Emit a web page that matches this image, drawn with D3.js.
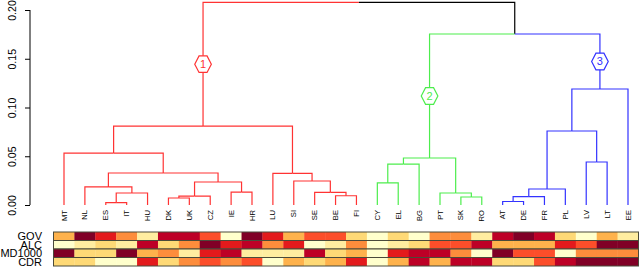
<!DOCTYPE html>
<html>
<head>
<meta charset="utf-8">
<script src="https://cdn.jsdelivr.net/npm/d3@7"></script>
<style>
  body { margin: 0; background: #fff; }
  text { font-family: "Liberation Sans", Arial, sans-serif; }
</style>
</head>
<body>
<div id="wrapper"></div>
<script>
// leaf order of the dendrogram
const countries = ['MT','NL','ES','IT','HU','DK','UK','CZ','IE','HR','LU','SI','SE','BE','FI',
                   'CY','EL','BG','PT','SK','RO','AT','DE','FR','PL','LV','LT','EE'];

// R-style merge matrix: negative = leaf (1-based), positive = earlier merge row
const mergeA = [-3,-22,-6,-20, 2, 3,-14, 1,-19,-13,-9, 5,-2,-16, 6,-12,13,-11,14,-26,19,-1,12,22,23,21,24];
const mergeB = [-4,-23,-7,-21,-24,-8,-15,-5, 4, 7,-10,-25, 8,-17,11,10,15,16,-18,-27, 9,17,20,18,-28,25,26];
const mergeH = [0.0024,0.0036,0.0072,0.0082,0.0085,0.0092,0.0095,0.0123,0.0123,0.013,0.0133,0.0164,
                0.0185,0.0226,0.0236,0.0246,0.0328,0.0325,0.042,0.0441,0.0482,0.0533,0.0759,0.081,
                0.119,0.1754,0.2079];

// merge rows that start each of the three clusters
const clusterRows = [24, 21, 25];
const clusterColors = ['#ff3333', '#4ded4d', '#3333ff'];

const yTicks = [0, 0.05, 0.10, 0.15, 0.20];

// colour classes (YlOrRd, 0..8) of the bars under the leaves
const barNames = ['GOV', 'ALC', 'MD1000', 'CDR'];
const GOV    = [3,8,6,4,1,7,7,5,0,8,6,3,5,5,2,0,2,0,4,4,1,7,8,7,2,0,3,1];
const ALC    = [0,1,2,1,7,2,4,8,6,7,4,6,0,1,4,0,1,2,5,5,7,3,3,3,6,5,8,8];
const MD1000 = [8,2,2,8,3,4,1,6,7,1,1,1,7,2,3,0,6,7,7,4,0,8,5,5,0,4,4,4];
const CDR    = [2,2,0,0,6,2,4,5,4,5,0,3,2,3,6,0,3,7,3,7,7,2,2,5,7,8,8,8];
const barRows = [GOV, ALC, MD1000, CDR];

const width = 640, height = 267;

const svg = d3.select('#wrapper').append('svg')
    .attr('width', width)
    .attr('height', height);

const xScale = d3.scalePoint().domain(countries).range([64, 628]);
const yScale = d3.scaleLinear().domain([0, 0.2]).range([205, 10]);

// build the tree from the merge matrix
const nodeFor = (ref) => ref < 0
    ? { name: countries[-ref - 1], h: 0 }
    : { row: ref, h: mergeH[ref - 1], kids: [nodeFor(mergeA[ref - 1]), nodeFor(mergeB[ref - 1])] };

const root = d3.hierarchy(nodeFor(mergeA.length), d => d.kids);

root.eachAfter(n => {
    n.px = n.children ? d3.mean(n.children, c => c.px) : xScale(n.data.name);
    n.py = yScale(n.data.h);
});
root.eachBefore(n => {
    const k = clusterRows.indexOf(n.data.row);
    n.cluster = k >= 0 ? k : (n.parent ? n.parent.cluster : -1);
});

const colorOf = n => n.cluster >= 0 ? clusterColors[n.cluster] : '#000';

svg.append('g')
    .selectAll('path')
    .data(root.descendants().filter(n => n.parent))
    .join('path')
    .attr('d', n => `M${n.parent.px},${n.parent.py}H${n.px}V${n.py}`)
    .attr('fill', 'none')
    .attr('stroke', colorOf)
    .attr('stroke-width', 1.2);

// hexagon cluster labels halfway along each cluster's top branch
const hexPts = [[-8.3,0],[-4,-8.3],[4,-8.3],[8.3,0],[4,8.3],[-4,8.3]];
const clusterNodes = clusterRows.map(r => root.descendants().find(n => n.data.row === r));

const hex = svg.append('g')
    .selectAll('g')
    .data(clusterNodes)
    .join('g')
    .attr('transform', n => `translate(${n.px},${(n.py + n.parent.py) / 2})`);

hex.append('polygon')
    .attr('points', hexPts.map(p => p.join(',')).join(' '))
    .attr('fill', '#fff')
    .attr('stroke', (n, i) => clusterColors[i])
    .attr('stroke-width', 1.2);

hex.append('text')
    .attr('text-anchor', 'middle')
    .attr('dy', '0.36em')
    .attr('font-size', 11)
    .attr('fill', (n, i) => clusterColors[i])
    .text((n, i) => i + 1);

// leaf labels
svg.append('g')
    .selectAll('text')
    .data(countries)
    .join('text')
    .attr('transform', d => `translate(${xScale(d) + 2.6},210) rotate(-90)`)
    .attr('text-anchor', 'end')
    .attr('font-size', 7.6)
    .text(d => d);

// y axis
const yAxis = svg.append('g')
    .attr('transform', 'translate(30,0)')
    .call(d3.axisLeft(yScale).tickValues(yTicks).tickSize(5).tickFormat(d3.format('.2f')));

yAxis.select('.domain').attr('d', `M0,${yScale(0)}V${yScale(0.2)}`);
yAxis.selectAll('text')
    .attr('font-size', 10.5)
    .attr('font-family', '"Liberation Sans", Arial, sans-serif')
    .attr('text-anchor', 'middle')
    .attr('transform', 'translate(-14,0) rotate(-90)')
    .attr('x', 0).attr('y', 0).attr('dy', 0);

// coloured bars
const palette = d3.schemeYlOrRd[9];
const xBand = d3.scaleBand().domain(countries).range([53.5, 638.5]);
const yBand = d3.scaleBand().domain(barNames).range([232, 266]);

const bars = svg.append('g')
    .selectAll('g')
    .data(barRows)
    .join('g')
    .attr('transform', (d, i) => `translate(0,${yBand(barNames[i])})`);

bars.selectAll('rect')
    .data(d => d)
    .join('rect')
    .attr('x', (d, i) => xBand(countries[i]))
    .attr('width', xBand.bandwidth() + 0.3)
    .attr('height', yBand.bandwidth())
    .attr('fill', d => palette[d]);

bars.append('rect')
    .attr('x', xBand(countries[0]))
    .attr('width', xBand.bandwidth() * countries.length)
    .attr('height', yBand.bandwidth())
    .attr('fill', 'none')
    .attr('stroke', '#4a4a3a')
    .attr('stroke-width', 1);

svg.append('g')
    .selectAll('text')
    .data(barNames)
    .join('text')
    .attr('x', 42)
    .attr('y', d => yBand(d) + yBand.bandwidth() - 0.3)
    .attr('text-anchor', 'end')
    .attr('font-size', 11)
    .text(d => d);
</script>
</body>
</html>
